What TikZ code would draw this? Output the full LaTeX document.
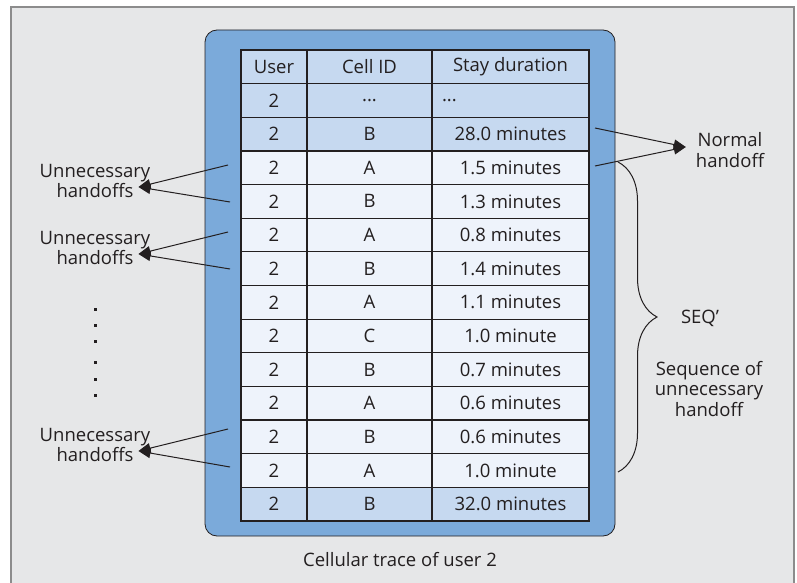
\documentclass[tikz,border=0pt]{standalone}
\usepackage{fontspec}
\setmainfont{Open Sans}
\usetikzlibrary{arrows.meta,decorations.pathreplacing}
\definecolor{pagebg}{RGB}{230,231,232}
\definecolor{framegray}{RGB}{140,140,140}
\definecolor{traceblue}{RGB}{123,170,218}
\definecolor{rowdark}{RGB}{198,217,240}
\definecolor{rowlight}{RGB}{238,243,251}
\definecolor{ink}{RGB}{35,31,32}
\begin{document}
\begin{tikzpicture}[x=1pt,y=-1pt,
  txt/.style={font=\fontsize{18.5}{20.5}\selectfont, text=ink, inner sep=0pt},
  cell/.style={txt, draw=ink, line width=1.2pt, minimum height=33.64pt, anchor=center},
  ucol/.style={cell, minimum width=66pt},
  ccol/.style={cell, minimum width=125pt},
  dcol/.style={cell, minimum width=157pt},
  lbl/.style={txt, align=center},
  conn/.style={draw=ink, line width=1pt, -{Triangle[length=12pt,width=10pt]}},
  dotmark/.style={fill=ink}
]
\useasboundingbox (0,0) rectangle (797,583);
% page background
\fill[white] (0,0) rectangle (797,583);
\draw[fill=pagebg, draw=framegray, line width=1.5pt] (11,7) rectangle (794,600);

% blue frame around the trace table
\draw[fill=traceblue, draw=ink, line width=0.8pt, rounded corners=12pt] (205,30) rectangle (615,536);

% header row
\node[ucol, fill=rowdark] (u0) at (274,66.82) {User};
\node[ccol, fill=rowdark] (c0) at (369.5,66.82) {Cell ID};
\node[dcol, fill=rowdark] (d0) at (510.5,66.82) {Stay duration};

% first data row with elided values
\node[ucol, fill=rowdark] (u1) at (274,100.46) {2};
\node[ccol, fill=rowdark] (c1) at (369.5,100.46) {...};
\node[dcol, fill=rowdark, text width=137pt, align=left] (d1) at (510.5,100.46) {...};

% remaining rows
\foreach \r/\c/\d/\f in {2/B/28.0 minutes/rowdark,
  3/A/1.5 minutes/rowlight, 4/B/1.3 minutes/rowlight,
  5/A/0.8 minutes/rowlight, 6/B/1.4 minutes/rowlight,
  7/A/1.1 minutes/rowlight, 8/C/1.0 minute/rowlight,
  9/B/0.7 minutes/rowlight, 10/A/0.6 minutes/rowlight,
  11/B/0.6 minutes/rowlight, 12/A/1.0 minute/rowlight,
  13/B/32.0 minutes/rowdark}{
  \pgfmathsetmacro\yy{50+33.64*(\r+0.5)}
  \node[ucol, fill=\f] (u\r) at (274,\yy) {2};
  \node[ccol, fill=\f] (c\r) at (369.5,\yy) {\c};
  \node[dcol, fill=\f] (d\r) at (510.5,\yy) {\d};
}

% caption
\node[txt] (cap) at (400,560) {Cellular trace of user 2};

% left labels: unnecessary handoffs
\node[lbl] (un1) at (95,181) {Unnecessary\\handoffs};
\node[lbl] (un2) at (95,248) {Unnecessary\\handoffs};
\node[lbl] (un3) at (95,445) {Unnecessary\\handoffs};

\coordinate (s1a) at (228,165);
\coordinate (s1b) at (230,202);
\coordinate (s2a) at (228,232);
\coordinate (s2b) at (230,269);
\coordinate (s3a) at (228,429);
\coordinate (s3b) at (230,467);

\draw[conn] (s1a) -- ([shift={(-12,6)}]un1.east);
\draw[conn] (s1b) -- ([shift={(-12,6)}]un1.east);
\draw[conn] (s2a) -- ([shift={(-12,6)}]un2.east);
\draw[conn] (s2b) -- ([shift={(-12,6)}]un2.east);
\draw[conn] (s3a) -- ([shift={(-12,6)}]un3.east);
\draw[conn] (s3b) -- ([shift={(-12,6)}]un3.east);

% vertical ellipsis between the label groups
\foreach \y in {309,325,341,362,379,395}
  \fill[dotmark] (93.5,\y-1.5) rectangle (96.5,\y+1.5);

% normal handoff
\node[lbl] (nh) at (730,150) {Normal\\handoff};
\coordinate (n1) at (595,128);
\coordinate (n2) at (595,166);
\draw[conn] (n1) -- ([shift={(-10,-3)}]nh.west);
\draw[conn] (n2) -- ([shift={(-10,-3)}]nh.west);

% brace over the unnecessary-handoff sequence
\coordinate (b1) at (618,162);
\coordinate (b2) at (618,472);
\draw[ink, line width=1pt, decorate, decoration={brace, amplitude=39pt}] (b1) -- (b2);
\node[txt] (seq) at (700,318) {SEQ’};
\node[lbl] (seqd) at (709,389) {Sequence of\\unnecessary\\handoff};
\end{tikzpicture}
\end{document}
